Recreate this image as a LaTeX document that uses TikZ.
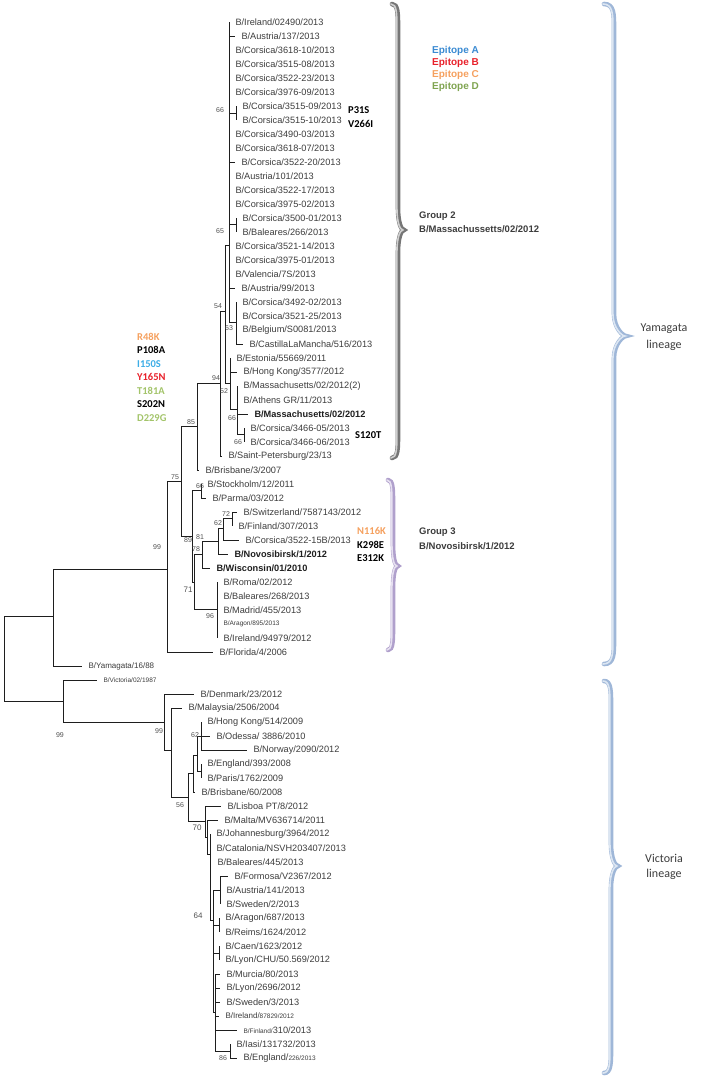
\documentclass[tikz,border=0pt]{standalone}
\usepackage{fontspec}
\setmainfont{Liberation Sans}
\newfontfamily\calib{Carlito}
\definecolor{txtgray}{HTML}{3C3C3C}
\definecolor{bsgray}{HTML}{505050}
\definecolor{treecol}{HTML}{1E1E1E}
\definecolor{epiA}{HTML}{3A8AD2}
\definecolor{epiAl}{HTML}{3DADE6}
\definecolor{epiB}{HTML}{E8202A}
\definecolor{epiC}{HTML}{F5A05E}
\definecolor{epiD}{HTML}{7FA450}
\definecolor{epiDl}{HTML}{A3C46A}
\definecolor{grpgray}{HTML}{767676}
\definecolor{grpgrayl}{HTML}{D0D0D0}
\definecolor{grppur}{HTML}{B0A0CC}
\definecolor{grppurl}{HTML}{E6E0F0}
\definecolor{linblue}{HTML}{9FB7D8}
\definecolor{linbluel}{HTML}{DCE6F2}
\newcommand{\leaffont}{\fontsize{9.2}{10}\selectfont}
\newcommand{\smallleaf}{\fontsize{6.5}{7}\selectfont}
\newcommand{\bsfont}{\fontsize{7}{8}\selectfont}
\newcommand{\mutfont}{\calib\bfseries\fontsize{10.5}{12}\selectfont}
\newcommand{\lv}[5][leaf]{\node[#1] (#2) at (#3,{22+14*(#4-1)}) {#5};}
\newcommand{\el}[2]{\draw[br] (#1) |- (#2.west);}
\newcommand{\ei}[2]{\draw[br] (#1) |- (#2);}
\newcommand{\mybrace}[7]{%
\draw[#7] (#1,#4) .. controls (#2,#4) and (#2,#4+10) .. (#2,#4+24) -- (#2,#5-22) .. controls (#2,#5-8) and (#3-3,#5) .. (#3,#5) .. controls (#3-3,#5) and (#2,#5+8) .. (#2,#5+22) -- (#2,#6-24) .. controls (#2,#6-10) and (#2,#6) .. (#1,#6);}
\tikzset{
 leaf/.style={anchor=west,inner xsep=6.5pt,inner ysep=1pt,outer sep=0pt,font=\leaffont,text=txtgray},
 bleaf/.style={leaf,font=\leaffont\bfseries,text=treecol},
 sleaf/.style={leaf,font=\smallleaf},
 bs/.style={inner sep=0pt,font=\bsfont,text=bsgray},
 br/.style={line width=0.8pt,draw=treecol},
 mut/.style={anchor=west,inner sep=0pt,font=\mutfont},
 grp/.style={anchor=west,inner sep=0pt,font=\fontsize{9.5}{11}\selectfont\bfseries,text=txtgray},
 epi/.style={anchor=west,inner sep=0pt,font=\fontsize{10}{12}\selectfont\bfseries},
 lin/.style={inner sep=0pt,font=\calib\fontsize{12}{14}\selectfont,text=txtgray},
 braceout/.style={line width=4.6pt,line cap=round,draw=#1},
 bracein/.style={line width=1.6pt,line cap=round,draw=#1,xshift=-1.1pt},
}
\begin{document}
\begin{tikzpicture}[x=1pt,y=-1pt]
\useasboundingbox (0,0) rectangle (718,1078);
% ---------- braces ----------
\mybrace{392}{398}{404}{4}{230}{458}{braceout=grpgray}
\mybrace{392}{398}{404}{4}{230}{458}{bracein=grpgrayl}
\mybrace{388}{393}{398}{480}{566}{650}{braceout=grppur}
\mybrace{388}{393}{398}{480}{566}{650}{bracein=grppurl}
\mybrace{604}{614}{626}{4}{336}{664}{braceout=linblue}
\mybrace{604}{614}{626}{4}{336}{664}{bracein=linbluel}
\mybrace{604}{611}{618}{681}{866}{1073}{braceout=linblue}
\mybrace{604}{611}{618}{681}{866}{1073}{bracein=linbluel}
% ---------- internal nodes ----------
\coordinate (R) at (4,616);
\coordinate (A) at (53,616);
\coordinate (B) at (167,569);
\coordinate (N75) at (181,481);
\coordinate (N85) at (197,426);
\coordinate (G2) at (220,383);
\coordinate (N54) at (225,311);
\coordinate (P1) at (229,245);
\coordinate (N66t) at (236,113);
\coordinate (N65) at (236,224);
\coordinate (N63) at (236,322);
\coordinate (N52) at (230,383);
\coordinate (N66a) at (237,409);
\coordinate (N66b) at (244,434);
\coordinate (G3) at (192,536);
\coordinate (N66s) at (201,490);
\coordinate (N71) at (194,582);
\coordinate (N78) at (202,554);
\coordinate (N81) at (218,541);
\coordinate (N62) at (223,528);
\coordinate (N72) at (232,518);
\coordinate (N96) at (217,609);
\coordinate (V0) at (63,701);
\coordinate (V1) at (164,722);
\coordinate (V2) at (171,750);
\coordinate (V3) at (188,797);
\coordinate (Vb) at (193,773);
\coordinate (Nd) at (197,755);
\coordinate (N62v) at (201,736);
\coordinate (NEP) at (201,771);
\coordinate (V56) at (205,821);
\coordinate (V70) at (207,837);
\coordinate (Vbig) at (210,854);
\coordinate (V64) at (213,920);
\coordinate (Vf) at (220,890);
\coordinate (AR) at (219,925);
\coordinate (CL) at (219,953);
\coordinate (Vlow) at (215,1012);
\coordinate (V86) at (230,1051);
% ---------- leaves ----------
\lv{l1}{229}{1}{B/Ireland/02490/2013}
\lv{l2}{235}{2}{B/Austria/137/2013}
\lv{l3}{229}{3}{B/Corsica/3618-10/2013}
\lv{l4}{229}{4}{B/Corsica/3515-08/2013}
\lv{l5}{229}{5}{B/Corsica/3522-23/2013}
\lv{l6}{229}{6}{B/Corsica/3976-09/2013}
\lv{l7}{236}{7}{B/Corsica/3515-09/2013}
\lv{l8}{236}{8}{B/Corsica/3515-10/2013}
\lv{l9}{229}{9}{B/Corsica/3490-03/2013}
\lv{l10}{229}{10}{B/Corsica/3618-07/2013}
\lv{l11}{235}{11}{B/Corsica/3522-20/2013}
\lv{l12}{229}{12}{B/Austria/101/2013}
\lv{l13}{229}{13}{B/Corsica/3522-17/2013}
\lv{l14}{229}{14}{B/Corsica/3975-02/2013}
\lv{l15}{236}{15}{B/Corsica/3500-01/2013}
\lv{l16}{236}{16}{B/Baleares/266/2013}
\lv{l17}{229}{17}{B/Corsica/3521-14/2013}
\lv{l18}{229}{18}{B/Corsica/3975-01/2013}
\lv{l19}{229}{19}{B/Valencia/7S/2013}
\lv{l20}{235}{20}{B/Austria/99/2013}
\lv{l21}{236}{21}{B/Corsica/3492-02/2013}
\lv{l22}{236}{22}{B/Corsica/3521-25/2013}
\lv{l23}{236}{23}{B/Belgium/S0081/2013}
\lv{l24}{243}{24}{B/CastillaLaMancha/516/2013}
\lv{l25}{230}{25}{B/Estonia/55669/2011}
\lv{l26}{237}{26}{B/Hong Kong/3577/2012}
\lv{l27}{237}{27}{B/Massachusetts/02/2012(2)}
\lv{l28}{237}{28}{B/Athens GR/11/2013}
\lv[bleaf]{l29}{248}{29}{B/Massachusetts/02/2012}
\lv{l30}{244}{30}{B/Corsica/3466-05/2013}
\lv{l31}{244}{31}{B/Corsica/3466-06/2013}
\lv{l32}{222}{32}{B/Saint-Petersburg/23/13}
\lv{l33}{199}{33}{B/Brisbane/3/2007}
\lv{l34}{201}{34}{B/Stockholm/12/2011}
\lv{l35}{206}{35}{B/Parma/03/2012}
\lv{l36}{237}{36}{B/Switzerland/7587143/2012}
\lv{l37}{232}{37}{B/Finland/307/2013}
\lv{l38}{239}{38}{B/Corsica/3522-15B/2013}
\lv[bleaf]{l39}{228}{39}{B/Novosibirsk/1/2012}
\lv[bleaf]{l40}{210}{40}{B/Wisconsin/01/2010}
\lv{l41}{217}{41}{B/Roma/02/2012}
\lv{l42}{217}{42}{B/Baleares/268/2013}
\lv{l43}{217}{43}{B/Madrid/455/2013}
\lv[sleaf]{l44}{217}{44}{B/Aragon/895/2013}
\lv{l45}{217}{45}{B/Ireland/94979/2012}
\lv{l46}{213}{46}{B/Florida/4/2006}
\lv[leaf,font=\fontsize{8}{9}\selectfont]{l47}{82}{47}{B/Yamagata/16/88}
\lv[sleaf]{l48}{97}{48}{B/Victoria/02/1987}
\lv{l49}{194}{49}{B/Denmark/23/2012}
\lv{l50}{182}{50}{B/Malaysia/2506/2004}
\lv{l51}{201}{51}{B/Hong Kong/514/2009}
\lv{l52}{210}{52}{B/Odessa/ 3886/2010}
\lv{l53}{247}{53}{B/Norway/2090/2012}
\lv{l54}{201}{54}{B/England/393/2008}
\lv{l55}{201}{55}{B/Paris/1762/2009}
\lv{l56}{195}{56}{B/Brisbane/60/2008}
\lv{l57}{221}{57}{B/Lisboa PT/8/2012}
\lv{l58}{218}{58}{B/Malta/MV636714/2011}
\lv{l59}{210}{59}{B/Johannesburg/3964/2012}
\lv{l60}{210}{60}{B/Catalonia/NSVH203407/2013}
\lv{l61}{211}{61}{B/Baleares/445/2013}
\lv{l62}{228}{62}{B/Formosa/V2367/2012}
\lv{l63}{220}{63}{B/Austria/141/2013}
\lv{l64}{220}{64}{B/Sweden/2/2013}
\lv{l65}{219}{65}{B/Aragon/687/2013}
\lv{l66}{219}{66}{B/Reims/1624/2012}
\lv{l67}{219}{67}{B/Caen/1623/2012}
\lv{l68}{219}{68}{B/Lyon/CHU/50.569/2012}
\lv{l69}{220}{69}{B/Murcia/80/2013}
\lv{l70}{220}{70}{B/Lyon/2696/2012}
\lv{l71}{220}{71}{B/Sweden/3/2013}
\lv{l72}{219}{72}{{\fontsize{8}{9}\selectfont B/Ireland/}{\smallleaf 87829/2012}}
\lv{l73}{237}{73}{{\smallleaf B/Finland/}310/2013}
\lv{l74}{230}{74}{B/Iasi/131732/2013}
\lv{l75}{237}{75}{B/England/{\smallleaf 226/2013}}
% ---------- branches ----------
\ei{R}{A} \ei{R}{V0}
\ei{A}{B} \el{A}{l47}
\ei{B}{N75} \el{B}{l46}
\ei{N75}{N85} \ei{N75}{G3}
\ei{N85}{G2} \el{N85}{l33}
\ei{G2}{N54} \el{G2}{l32}
\ei{N54}{P1} \ei{N54}{N52}
\el{P1}{l1} \el{P1}{l2} \el{P1}{l3} \el{P1}{l4} \el{P1}{l5} \el{P1}{l6}
\ei{P1}{N66t} \el{P1}{l9} \el{P1}{l10} \el{P1}{l11} \el{P1}{l12} \el{P1}{l13}
\el{P1}{l14} \ei{P1}{N65} \el{P1}{l17} \el{P1}{l18} \el{P1}{l19} \el{P1}{l20}
\ei{P1}{N63}
\el{N66t}{l7} \el{N66t}{l8}
\el{N65}{l15} \el{N65}{l16}
\el{N63}{l21} \el{N63}{l22} \el{N63}{l23} \el{N63}{l24}
\el{N52}{l25} \el{N52}{l26} \ei{N52}{N66a}
\el{N66a}{l27} \el{N66a}{l28} \el{N66a}{l29} \ei{N66a}{N66b}
\el{N66b}{l30} \el{N66b}{l31}
\ei{G3}{N66s} \ei{G3}{N71}
\el{N66s}{l34} \el{N66s}{l35}
\ei{N71}{N78} \ei{N71}{N96}
\ei{N78}{N81} \el{N78}{l40}
\ei{N81}{N62} \el{N81}{l39}
\ei{N62}{N72} \el{N62}{l38}
\el{N72}{l36} \el{N72}{l37}
\el{N96}{l41} \el{N96}{l42} \el{N96}{l43} \el{N96}{l44} \el{N96}{l45}
\el{V0}{l48} \ei{V0}{V1}
\el{V1}{l49} \ei{V1}{V2}
\el{V2}{l50} \ei{V2}{V3}
\ei{V3}{Vb} \ei{V3}{V56}
\ei{Vb}{Nd} \el{Vb}{l56}
\ei{Nd}{N62v} \ei{Nd}{NEP}
\el{N62v}{l51} \el{N62v}{l52} \el{N62v}{l53}
\el{NEP}{l54} \el{NEP}{l55}
\el{V56}{l57} \ei{V56}{V70}
\el{V70}{l58} \ei{V70}{Vbig}
\el{Vbig}{l59} \el{Vbig}{l60} \el{Vbig}{l61} \ei{Vbig}{V64}
\ei{V64}{Vf} \ei{V64}{AR} \ei{V64}{CL} \ei{V64}{Vlow}
\el{Vf}{l62} \el{Vf}{l63} \el{Vf}{l64}
\el{AR}{l65} \el{AR}{l66}
\el{CL}{l67} \el{CL}{l68}
\el{Vlow}{l69} \el{Vlow}{l70} \el{Vlow}{l71} \el{Vlow}{l72} \el{Vlow}{l73} \ei{Vlow}{V86}
\el{V86}{l74} \el{V86}{l75}
% ---------- bootstrap values ----------
\node[bs] (b1) at (220,110) {66};
\node[bs] (b2) at (220,231) {65};
\node[bs] (b3) at (218,306) {54};
\node[bs] (b4) at (229,328) {63};
\node[bs] (b5) at (216,378) {94};
\node[bs] (b6) at (224,391) {52};
\node[bs] (b7) at (232,418) {66};
\node[bs] (b8) at (238,442) {66};
\node[bs] (b9) at (191,422) {85};
\node[bs] (b10) at (175,477) {75};
\node[bs] (b11) at (157,547) {99};
\node[bs] (b12) at (200,486) {66};
\node[bs] (b13) at (226,514) {72};
\node[bs] (b14) at (218,523) {62};
\node[bs] (b15) at (200,537) {81};
\node[bs] (b16) at (188,540) {89};
\node[bs] (b17) at (196,549) {78};
\node[bs,font=\fontsize{8}{9}\selectfont] (b18) at (188,590) {71};
\node[bs] (b19) at (210,616) {96};
\node[bs] (b20) at (60,735) {99};
\node[bs] (b21) at (159,731) {99};
\node[bs] (b22) at (195,735) {62};
\node[bs] (b23) at (180,805) {56};
\node[bs,font=\fontsize{8}{9}\selectfont] (b24) at (197,828) {70};
\node[bs,font=\fontsize{8}{9}\selectfont] (b25) at (198,916) {64};
\node[bs] (b26) at (223,1058) {86};
% ---------- mutations ----------
\node[mut,text=epiC] (m1) at (137,337) {R48K};
\node[mut,text=black] (m2) at (137,350) {P108A};
\node[mut,text=epiAl] (m3) at (137,364) {I150S};
\node[mut,text=epiB] (m4) at (137,377) {Y165N};
\node[mut,text=epiDl] (m5) at (137,391) {T181A};
\node[mut,text=black] (m6) at (137,404) {S202N};
\node[mut,text=epiDl] (m7) at (137,418) {D229G};
\node[mut,text=black] (m8) at (348,110) {P31S};
\node[mut,text=black] (m9) at (348,124) {V266I};
\node[mut,text=black] (m10) at (355,435) {S120T};
\node[mut,text=epiC] (m11) at (357,531) {N116K};
\node[mut,text=black] (m12) at (357,545) {K298E};
\node[mut,text=black] (m13) at (357,558) {E312K};
% ---------- legend and group labels ----------
\node[epi,text=epiA] (e1) at (432,51) {Epitope A};
\node[epi,text=epiB] (e2) at (432,63) {Epitope B};
\node[epi,text=epiC] (e3) at (432,75) {Epitope C};
\node[epi,text=epiD] (e4) at (432,87) {Epitope D};
\node[grp] (g2a) at (419,216) {Group 2};
\node[grp] (g2b) at (419,229) {B/Massachussetts/02/2012};
\node[grp] (g3a) at (419,532) {Group 3};
\node[grp] (g3b) at (419,546) {B/Novosibirsk/1/2012};
\node[lin] (ya) at (664,329) {Yamagata};
\node[lin] (yb) at (664,345) {lineage};
\node[lin] (va) at (664,858) {Victoria};
\node[lin] (vb) at (664,874) {lineage};
\end{tikzpicture}
\end{document}
